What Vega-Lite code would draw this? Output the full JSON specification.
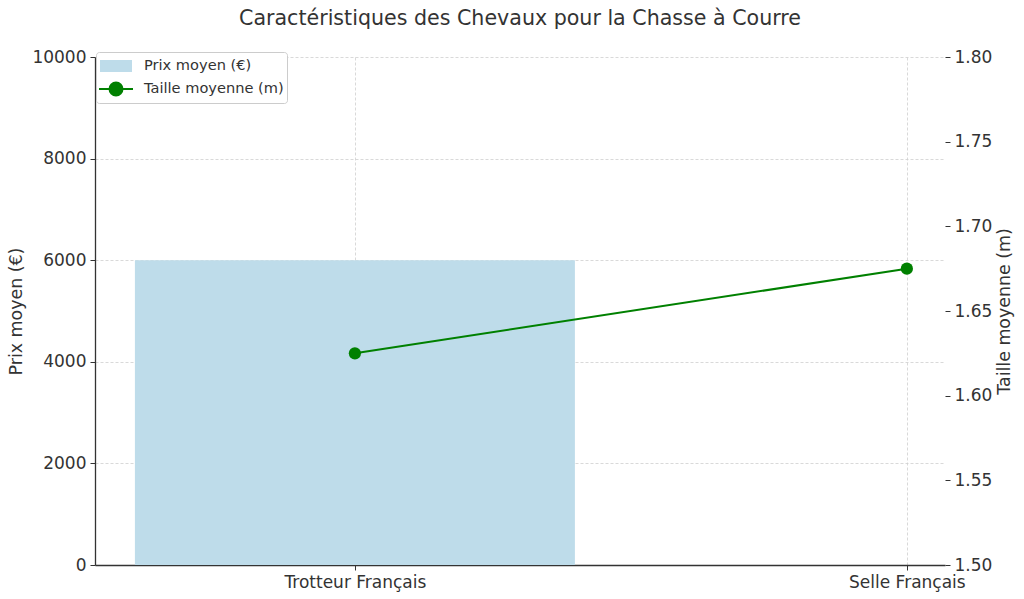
{
  "$schema": "https://vega.github.io/schema/vega-lite/v6.json",
  "description": "Caractéristiques des chevaux pour la chasse à courre : prix moyen et taille moyenne.",
  "width": 850,
  "height": 508,
  "autosize": {"type": "none"},
  "padding": {"left": 95, "top": 57, "right": 79, "bottom": 34},
  "background": "white",
  "title": {
    "text": "Caractéristiques des Chevaux pour la Chasse à Courre",
    "anchor": "middle",
    "fontSize": 20.6,
    "fontWeight": "normal",
    "color": "#333333",
    "offset": 18
  },
  "config": {
    "font": "DejaVu Sans",
    "view": {"stroke": null},
    "axis": {
      "labelFontSize": 17,
      "titleFontSize": 17.4,
      "titleFontWeight": "normal",
      "labelColor": "#333333",
      "titleColor": "#333333",
      "domainColor": "#333333",
      "domainWidth": 1.3,
      "tickColor": "#333333",
      "tickSize": 5,
      "labelPadding": 4,
      "gridColor": "#cfcfcf",
      "gridDash": [3, 2],
      "gridWidth": 0.8,
      "zindex": 1
    }
  },
  "data": {
    "values": [
      {"race": "Trotteur Français", "prix": 6000, "taille": 1.625},
      {"race": "Selle Français", "prix": null, "taille": 1.675}
    ]
  },
  "encoding": {
    "x": {
      "field": "race",
      "type": "nominal",
      "sort": null,
      "scale": {
        "type": "point",
        "domain": ["Trotteur Français", "Selle Français"],
        "padding": 0.27,
        "align": 0.872
      },
      "axis": {
        "title": null,
        "labelAngle": 0,
        "grid": true,
        "labelBound": false,
        "labelFlush": false,
        "labelOverlap": false
      }
    }
  },
  "layer": [
    {
      "mark": {"type": "bar", "width": 440},
      "encoding": {
        "y": {
          "field": "prix",
          "type": "quantitative",
          "scale": {"domain": [0, 10000], "nice": false},
          "axis": {
            "title": "Prix moyen (€)",
            "values": [0, 2000, 4000, 6000, 8000, 10000],
            "format": "d",
            "grid": true,
            "titlePadding": 6
          }
        },
        "color": {
          "datum": "Prix moyen (€)",
          "scale": {
            "domain": ["Prix moyen (€)", "Taille moyenne (m)"],
            "range": ["#bedcea", "#008000"]
          },
          "legend": {
            "title": null,
            "orient": "none",
            "legendX": 1,
            "legendY": -5,
            "direction": "vertical",
            "fillColor": "white",
            "strokeColor": "#cccccc",
            "cornerRadius": 3,
            "padding": 3,
            "symbolSize": 400,
            "rowPadding": 3,
            "labelOffset": 23,
            "labelFontSize": 14.6,
            "labelColor": "#333333",
            "labelLimit": 300,
            "encode": {
              "symbols": {
                "update": {
                  "shape": {"signal": "datum.label == 'Prix moyen (€)' ? 'M-0.9,-0.5H2.1V0.5H-0.9Z' : 'M-1.1,0H2.3M1.25,0A0.65,0.65,0,1,1,-0.05,0A0.65,0.65,0,1,1,1.25,0Z'"},
                  "fill": {"signal": "datum.label == 'Prix moyen (€)' ? '#bedcea' : '#008000'"},
                  "stroke": {"signal": "datum.label == 'Prix moyen (€)' ? '#bedcea' : '#008000'"},
                  "strokeWidth": {"value": 2},
                  "opacity": {"value": 1},
                  "fillOpacity": {"value": 1}
                }
              }
            }
          }
        }
      }
    },
    {
      "mark": {
        "type": "line",
        "strokeWidth": 2,
        "point": {"size": 150, "filled": true, "opacity": 1}
      },
      "encoding": {
        "y": {
          "field": "taille",
          "type": "quantitative",
          "scale": {"domain": [1.5, 1.8], "nice": false, "zero": false},
          "axis": {
            "orient": "right",
            "title": "Taille moyenne (m)",
            "titleAngle": 270,
            "titleBaseline": "top",
            "values": [1.5, 1.55, 1.6, 1.65, 1.7, 1.75, 1.8],
            "format": ".2f",
            "domain": false,
            "grid": false,
            "titlePadding": 4
          }
        },
        "color": {"datum": "Taille moyenne (m)"}
      }
    }
  ],
  "resolve": {"scale": {"y": "independent"}}
}
